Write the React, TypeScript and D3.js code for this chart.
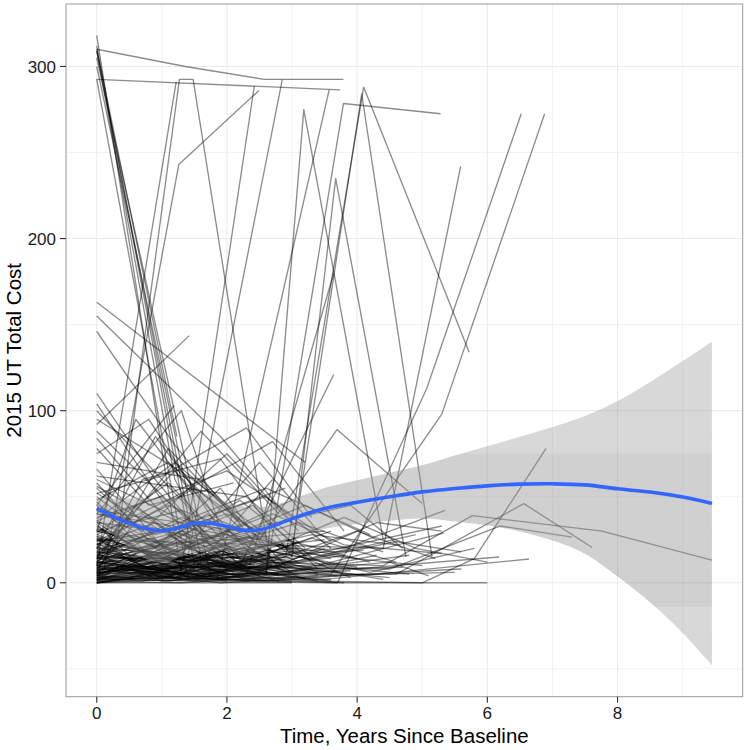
import * as d3 from 'd3';

// each subject is a flat list: time, cost, time, cost, ...
const topSubjects: number[][] = [
  [0, 318, 1.3, 5],
  [0, 312, 1.5, 10],
  [0, 310, 1.36, 300, 2.57, 292.5, 3.79, 292.5],
  [0, 309, 1.2, 60, 1.7, 25],
  [0, 309, 1.45, 30],
  [0, 305, 1.75, 4],
  [0, 300, 1.6, 15],
  [0, 292.5, 3.74, 286.4],
  [0, 292.5, 1.4, 3],
  [0, 310, 1.23, 85],
];

const risingSubjects: number[][] = [
  [0, 25, 0.3, 20, 1.27, 292.5, 1.48, 292.5, 2.65, 15],
  [0, 10, 1.22, 291],
  [0, 8, 0.1, 5, 1.26, 243, 2.49, 286],
  [0, 12, 1.28, 2, 2.42, 288.5],
  [0, 5, 1.4, 15, 2.85, 292.4],
  [0, 10, 1.85, 2, 3.57, 286.4],
  [0, 30, 2.6, 5, 3.18, 275, 4.4, 25],
  [0, 22, 2.6, 5, 3.79, 278.5, 5.28, 272.5],
  [0, 6, 2.9, 15, 4.1, 288, 5.72, 134],
  [0, 35, 3.0, 20, 4.07, 284, 5.15, 15],
  [0, 4, 3.7, 0, 5.07, 113, 6.52, 272.5],
  [0, 18, 3.6, 5, 5.3, 98, 6.88, 272.5],
  [0, 25, 4.4, 20, 5.59, 242],
  [0, 14, 3.0, 15, 3.67, 235, 4.75, 15],
  [0, 9, 2.2, 10, 3.64, 121],
  [0, 40, 2.5, 25, 3.69, 89, 5.0, 46],
  [0, 12, 2.3, 4, 3.64, 180],
];

const midSubjects: number[][] = [
  [0, 163, 3.2, 70],
  [0, 155, 1.9, 85, 3.0, 35],
  [0, 146, 1.2, 80, 2.5, 20],
  [0, 110, 0.9, 60, 2.0, 10],
  [0, 100, 1.5, 40],
  [0, 92, 1.42, 143.6],
  [0, 45, 1.19, 103],
  [0, 84, 1.0, 40, 2.2, 18],
  [0, 75, 0.8, 95, 1.9, 30],
  [0, 70, 1.6, 60, 2.9, 10],
  [0, 62, 2.3, 50, 3.2, 20],
  [0, 58, 0.9, 20, 1.9, 55, 2.8, 8],
  [0, 55, 0.7, 30, 2.0, 75, 3.1, 30],
  [0, 50, 1.5, 8, 2.7, 60],
  [0, 48, 1.1, 70, 2.4, 25],
  [0, 104, 0.6, 70, 1.6, 15],
  [0, 40, 1.3, 100, 2.0, 20],
];

const midSubjectsB: number[][] = [
  [0, 20, 0.9, 85, 1.8, 40, 2.9, 55],
  [0, 6, 1.1, 78, 2.2, 35],
  [0, 66, 1.2, 12, 2.5, 70, 3.4, 30],
  [0, 30, 0.6, 95, 1.5, 50],
  [0, 88, 1.7, 25, 3.0, 48],
  [0, 14, 1.6, 88, 2.8, 40],
  [0, 52, 1.0, 62, 2.3, 90, 3.3, 38],
  [0, 36, 2.0, 65, 3.6, 24],
  [0, 78, 0.8, 45, 2.1, 58],
  [0, 10, 0.7, 60, 1.9, 72, 3.0, 15],
  [0, 95, 1.4, 62, 2.6, 28],
  [0, 28, 1.3, 52, 2.7, 82, 3.8, 30],
  [0, 42, 2.2, 30, 3.9, 45, 4.7, 20],
  [0, 16, 2.6, 55, 4.2, 28],
];

const lowSubjects: number[][] = [
  [0, 0, 1.0, 0, 2.1, 0, 3.0, 0],
  [0, 2, 1.1, 5, 2.0, 1],
  [0, 5, 0.9, 12, 1.9, 3, 2.8, 6],
  [0, 8, 1.2, 3, 2.3, 10],
  [0, 10, 1.0, 22, 2.0, 8],
  [0, 12, 1.3, 6, 2.5, 2, 3.4, 4],
  [0, 15, 0.8, 4, 1.8, 18, 2.9, 7],
  [0, 18, 1.0, 10, 2.2, 25],
  [0, 20, 1.5, 2, 3.0, 1],
  [0, 22, 0.9, 35, 1.9, 12, 3.1, 5],
  [0, 25, 1.2, 14, 2.6, 30],
  [0, 27, 1.0, 2, 2.0, 15, 3.3, 9],
  [0, 30, 1.4, 20, 2.8, 4],
  [0, 32, 0.8, 18, 1.7, 40, 2.7, 10],
  [0, 35, 1.1, 8, 2.4, 22],
  [0, 38, 1.0, 50, 2.1, 16],
  [0, 40, 1.6, 25, 3.0, 12],
  [0, 3, 0.7, 1, 1.6, 8, 2.5, 3, 3.6, 2],
  [0, 6, 1.2, 28, 2.4, 5],
  [0, 1, 1.0, 14, 2.0, 30, 3.1, 12],
  [0, 9, 1.9, 3, 3.9, 7],
  [0, 14, 1.3, 38, 2.7, 18, 4.0, 9],
  [0, 17, 1.0, 1, 2.3, 4, 3.5, 20],
  [0, 21, 1.4, 7, 2.9, 25, 4.2, 12],
  [0, 24, 1.1, 45, 2.3, 28],
  [0, 28, 0.9, 15, 2.0, 5],
  [0, 4, 1.0, 20, 2.2, 48, 3.3, 15],
  [0, 7, 1.5, 16, 3.1, 35, 4.4, 18],
  [0, 11, 0.8, 26, 1.7, 9, 2.6, 14],
  [0, 16, 1.8, 10, 3.7, 4],
  [0, 19, 1.2, 32, 2.5, 8, 3.8, 16],
  [0, 23, 0.9, 6, 2.0, 20, 3.2, 2],
  [0, 26, 1.5, 12, 3.3, 28, 4.6, 22],
  [0, 29, 1.1, 58, 2.2, 14],
  [0, 33, 1.4, 3, 2.8, 12],
  [0, 36, 0.8, 22, 1.9, 6, 3.0, 18],
  [0, 42, 1.3, 15, 2.6, 5],
  [0, 45, 0.9, 28, 2.0, 40, 3.2, 14],
  [0, 2, 1.3, 3, 2.6, 1, 4.1, 5],
  [0, 5, 1.7, 24, 3.5, 30],
  [0, 0, 2.0, 12, 4.5, 3],
  [0, 13, 1.1, 4, 2.1, 22, 3.4, 6],
  [0, 8, 0.7, 40, 1.5, 18],
  [0, 20, 1.2, 65, 2.4, 15],
  [0, 31, 1.6, 20, 3.2, 45, 4.3, 25],
];

const lowSubjectsB: number[][] = [
  [0, 3, 1.0, 8, 2.9, 12, 4.8, 5],
  [0, 10, 1.4, 2, 3.0, 18, 5.0, 10],
  [0, 16, 2.2, 6, 4.0, 30, 5.2, 14],
  [0, 24, 1.9, 36, 3.6, 10, 4.8, 16],
  [0, 6, 1.5, 9, 3.2, 4, 5.5, 6],
  [0, 12, 0.5, 30, 1.3, 10],
  [0, 34, 0.6, 12, 1.4, 24],
  [0, 47, 0.7, 20, 1.6, 35],
  [0, 52, 1.0, 30, 2.1, 6],
  [0, 56, 1.8, 18, 3.5, 25],
  [0, 1, 0.6, 16, 1.2, 3, 2.0, 20],
  [0, 4, 0.8, 9, 1.6, 26, 2.4, 6],
  [0, 7, 2.4, 45, 3.4, 8],
  [0, 18, 0.5, 6, 1.5, 1, 2.3, 12],
  [0, 27, 2.0, 3, 3.9, 20],
  [0, 9, 1.1, 18, 2.7, 40, 3.8, 22, 5.3, 17],
  [0, 14, 1.6, 4, 3.3, 14, 4.9, 28],
  [0, 2, 2.5, 20, 4.2, 6, 5.8, 20],
  [0, 5, 1.9, 8, 3.8, 38, 4.9, 20, 6.0, 12],
  [0, 0, 1.2, 2, 2.5, 6, 3.6, 1],
  [0, 11, 1.8, 22, 3.4, 5],
  [0, 15, 0.6, 45, 1.4, 20, 2.3, 34],
  [0, 22, 1.5, 55, 2.9, 18],
  [0, 37, 1.2, 70, 2.4, 30],
  [0, 60, 1.4, 35, 2.6, 50, 3.6, 20],
];

const lowSubjectsC: number[][] = [
  [0, 0, 0.9, 4, 1.9, 0, 2.9, 2],
  [0, 1, 1.3, 0, 2.6, 3, 3.8, 0],
  [0, 2, 0.8, 6, 1.7, 12, 2.8, 1],
  [0, 4, 1.1, 1, 2.2, 6, 3.2, 3],
  [0, 5, 0.6, 10, 1.4, 4, 2.4, 9],
  [0, 7, 1.2, 14, 2.3, 2, 3.5, 11],
  [0, 9, 0.9, 2, 2.0, 11, 3.0, 3],
  [0, 11, 1.5, 5, 3.0, 9],
  [0, 13, 0.7, 19, 1.6, 6, 2.6, 16],
  [0, 15, 1.0, 7, 2.0, 2],
  [0, 17, 1.4, 24, 2.7, 10, 3.7, 6],
  [0, 19, 0.8, 9, 1.8, 16, 3.1, 20],
  [0, 21, 1.2, 3, 2.4, 18],
  [0, 23, 1.7, 13, 3.4, 1],
  [0, 0, 1.5, 6, 3.1, 10, 4.4, 2],
  [0, 3, 1.0, 18, 2.1, 11, 3.3, 26, 4.6, 12],
  [0, 6, 2.1, 15, 4.1, 19],
  [0, 10, 1.3, 30, 2.8, 22, 4.0, 14],
  [0, 1, 0.5, 3, 1.1, 9, 1.8, 2, 2.6, 7],
  [0, 2, 1.6, 1, 3.3, 8, 4.7, 9],
  [0, 8, 1.0, 6, 2.5, 26, 3.9, 3],
  [0, 14, 2.0, 28, 3.0, 6],
  [0, 26, 0.7, 8, 1.5, 16, 2.5, 4],
  [0, 30, 1.3, 42, 2.2, 10, 3.1, 24],
  [0, 0, 0.4, 2, 1.4, 10, 2.2, 4],
  [0, 4, 1.8, 32, 3.6, 14],
  [0, 12, 2.3, 1, 4.3, 16],
  [0, 18, 1.1, 28, 2.0, 9, 3.6, 30],
];

const lateSubjects: number[][] = [
  [0, 2, 3.5, 0, 5.0, 0, 6.0, 0],
  [0, 3, 3.5, 2, 6.64, 13.8],
  [0, 6, 3.0, 5, 6.18, 15],
  [0, 4, 3.2, 3, 5.6, 8],
  [0, 12, 3.8, 20, 5.35, 42],
  [0, 8, 3.4, 10, 5.33, 29],
  [0, 3, 5.0, 0, 5.8, 14, 6.9, 78],
  [0, 5, 4.6, 5, 6.56, 46, 7.61, 20.5],
  [0, 15, 4.4, 10, 5.77, 39, 7.76, 30, 9.45, 13.2],
  [0, 10, 4.5, 8, 6.2, 33, 7.3, 26.5],
  [0, 3, 2.8, 10, 4.3, 35, 5.3, 30],
  [0, 6, 3.0, 14, 5.3, 33],
  [0, 20, 3.1, 12, 4.6, 24, 5.6, 18],
  [0, 1, 2.7, 6, 4.5, 12, 5.1, 4],
];

// loess fit with its confidence band
const fitTimes = [0, 0.25, 0.5, 0.75, 1, 1.25, 1.5, 1.75, 2, 2.25, 2.5, 2.75, 3, 3.5, 4, 4.5, 5, 5.5, 6, 6.5, 7, 7.5, 8, 8.5, 9, 9.45];
const fitValues = [43.2, 38.5, 34.5, 31.5, 30.2, 32, 34.6, 34.5, 32.7, 30.6, 30.8, 33.6, 37.3, 43.2, 46.8, 50, 52.8, 54.8, 56.3, 57.3, 57.5, 56.9, 54.6, 52.7, 49.8, 46.1];
const fitUpper = [49, 49, 49, 49, 49, 49.5, 51.5, 51, 47, 44.5, 44, 45.5, 48.5, 55, 59.5, 64, 68.3, 74, 79.3, 84.8, 90.5, 96.9, 105.6, 116.7, 128.8, 140.1];
const fitLower = [37.4, 28, 20, 14, 11.4, 14.5, 17.7, 18, 18.4, 16.7, 17.6, 21.7, 26.1, 31.4, 34.1, 36, 37.3, 35.6, 33.3, 29.8, 24.5, 16.9, 3.6, -11.3, -29.2, -47.9];
const overlapBand = [-14, 75];

const xTicks = [0, 2, 4, 6, 8];
const xMinor = [1, 3, 5, 7, 9];
const yTicks = [0, 100, 200, 300];
const yMinor = [-50, 50, 150, 250];

const W = 750;
const H = 750;
const panel = { left: 66, right: 742.7, top: 4, bottom: 696.7 };

type Pt = [number, number];
const toPoints = (flat: number[]): Pt[] => {
  const out: Pt[] = [];
  for (let i = 0; i < flat.length; i += 2) out.push([flat[i], flat[i + 1]]);
  return out;
};

const subjects = [
  ...topSubjects, ...risingSubjects, ...midSubjects, ...midSubjectsB,
  ...lowSubjects, ...lowSubjectsB, ...lowSubjectsC, ...lateSubjects,
].map(toPoints);

export default function App() {
  const allT = subjects.flat().map(p => p[0]).concat(fitTimes);
  const allV = subjects.flat().map(p => p[1]).concat(fitLower, fitUpper);
  const [t0, t1] = d3.extent(allT) as [number, number];
  const [v0, v1] = d3.extent(allV) as [number, number];
  const tPad = (t1 - t0) * 0.05;
  const vPad = (v1 - v0) * 0.05;

  const x = d3.scaleLinear().domain([t0 - tPad, t1 + tPad]).range([panel.left, panel.right]);
  const y = d3.scaleLinear().domain([v0 - vPad, v1 + vPad]).range([panel.bottom, panel.top]);

  const line = d3.line<Pt>().x(d => x(d[0])).y(d => y(d[1]));
  const fitLine = d3.line<number>()
    .x((_, i) => x(fitTimes[i]))
    .y(d => y(d))
    .curve(d3.curveCatmullRom.alpha(0.5));
  const band = d3.area<number>()
    .x((_, i) => x(fitTimes[i]))
    .y0((_, i) => y(fitLower[i]))
    .y1((_, i) => y(fitUpper[i]))
    .curve(d3.curveCatmullRom.alpha(0.5));

  const font = '"Liberation Sans", Arial, Helvetica, sans-serif';
  const pw = panel.right - panel.left;
  const ph = panel.bottom - panel.top;

  return (
    <div style={{ position: 'absolute', left: 0, top: 0 }}>
      <svg width={W} height={H} style={{ display: 'block', background: '#fff' }}>
        <defs>
          <clipPath id="panel-clip">
            <rect x={panel.left} y={panel.top} width={pw} height={ph} />
          </clipPath>
          <clipPath id="overlap-clip">
            <rect x={panel.left} y={y(overlapBand[1])} width={pw} height={y(overlapBand[0]) - y(overlapBand[1])} />
          </clipPath>
        </defs>

        {/* grid */}
        <g stroke="#ebebeb">
          {xMinor.map(t => <line key={'xm' + t} x1={x(t)} x2={x(t)} y1={panel.top} y2={panel.bottom} strokeWidth={0.6} />)}
          {yMinor.map(v => <line key={'ym' + v} x1={panel.left} x2={panel.right} y1={y(v)} y2={y(v)} strokeWidth={0.6} />)}
          {xTicks.map(t => <line key={'xg' + t} x1={x(t)} x2={x(t)} y1={panel.top} y2={panel.bottom} strokeWidth={1.1} />)}
          {yTicks.map(v => <line key={'yg' + v} x1={panel.left} x2={panel.right} y1={y(v)} y2={y(v)} strokeWidth={1.1} />)}
        </g>

        <g clipPath="url(#panel-clip)">
          {/* individual trajectories */}
          <g fill="none" stroke="#000" strokeOpacity={0.45} strokeWidth={1.35} strokeLinejoin="round">
            {subjects.map((s, i) => <path key={i} d={line(s) ?? ''} />)}
          </g>

          {/* confidence band */}
          <path d={band(fitValues) ?? ''} fill="#999" fillOpacity={0.38} />
          <path d={band(fitValues) ?? ''} fill="#888" fillOpacity={0.1} clipPath="url(#overlap-clip)" />

          {/* smooth */}
          <path d={fitLine(fitValues) ?? ''} fill="none" stroke="#3366FF" strokeWidth={3.6} strokeLinecap="butt" />
        </g>

        <rect x={panel.left} y={panel.top} width={pw} height={ph} fill="none" stroke="#999" strokeWidth={1} />

        {/* y axis */}
        <g>
          {yTicks.map(v => (
            <g key={'yt' + v}>
              <line x1={panel.left - 6} x2={panel.left} y1={y(v)} y2={y(v)} stroke="#333" strokeWidth={1.1} />
              <text x={panel.left - 10} y={y(v)} dy="0.36em" textAnchor="end" fontFamily={font} fontSize={17} fill="#1a1a1a">{v}</text>
            </g>
          ))}
        </g>

        {/* x axis */}
        <g>
          {xTicks.map(t => (
            <g key={'xt' + t}>
              <line x1={x(t)} x2={x(t)} y1={panel.bottom} y2={panel.bottom + 6} stroke="#333" strokeWidth={1.1} />
              <text x={x(t)} y={panel.bottom + 22.5} textAnchor="middle" fontFamily={font} fontSize={17} fill="#1a1a1a">{t}</text>
            </g>
          ))}
        </g>

        <text x={(panel.left + panel.right) / 2} y={742.5} textAnchor="middle" fontFamily={font} fontSize={20.5} fill="#000">
          Time, Years Since Baseline
        </text>
        <text transform={`translate(20.5,${(panel.top + panel.bottom) / 2}) rotate(-90)`} textAnchor="middle" fontFamily={font} fontSize={20.5} fill="#000">
          2015 UT Total Cost
        </text>
      </svg>
    </div>
  );
}
